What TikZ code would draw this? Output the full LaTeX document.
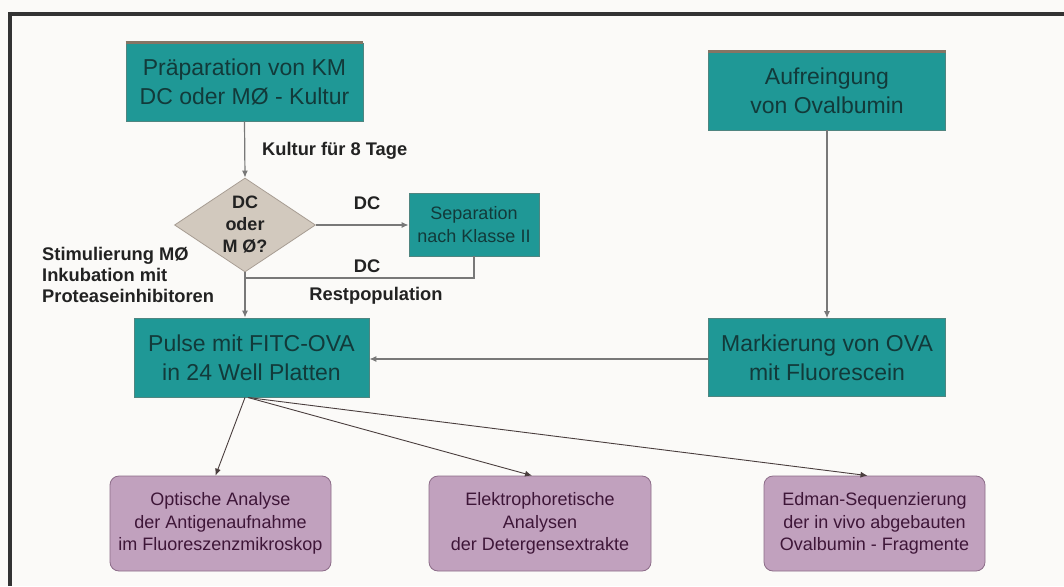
\documentclass[tikz,border=0pt]{standalone}
\usepackage{fontspec}
\setmainfont{Liberation Sans}
\usetikzlibrary{shapes.geometric,arrows.meta,calc}
\definecolor{bg}{HTML}{FBFAF8}
\definecolor{tealfill}{HTML}{1F9896}
\definecolor{tealtext}{HTML}{123A3A}
\definecolor{tealedge}{HTML}{4F8580}
\definecolor{topedge}{HTML}{857565}
\definecolor{diamfill}{HTML}{D2C9BE}
\definecolor{diamedge}{HTML}{A89E94}
\definecolor{mauve}{HTML}{C1A1BE}
\definecolor{mauveedge}{HTML}{8C6C88}
\definecolor{mauvetext}{HTML}{3E1638}
\definecolor{linec}{HTML}{787878}
\definecolor{fanc}{HTML}{4A3E3E}
\definecolor{framec}{HTML}{333333}
\definecolor{labelc}{HTML}{222222}
\begin{document}
\begin{tikzpicture}[x=1pt,y=-1pt,
  tealbox/.style={draw=tealedge, line width=0.8pt, fill=tealfill, text=tealtext,
    inner sep=0pt, align=center, minimum width=237pt, minimum height=78pt,
    font=\fontsize{23}{29}\selectfont},
  mauvebox/.style={draw=mauveedge, line width=0.8pt, fill=mauve, text=mauvetext,
    rounded corners=9pt, inner sep=0pt, align=center, minimum width=221pt, minimum height=95pt,
    font=\fontsize{18}{22.5}\selectfont},
  decision/.style={diamond, aspect=1.5, draw=diamedge, line width=0.8pt, fill=diamfill,
    text=labelc, inner sep=0pt, align=center, minimum width=141pt, minimum height=94pt,
    font=\fontsize{18}{22}\selectfont\bfseries},
  lbl/.style={text=labelc, inner sep=0pt, font=\fontsize{18.3}{21}\selectfont\bfseries},
  conn/.style={draw=linec, line width=1.2pt, -{Latex[length=7pt,width=6pt]}, color=linec},
  connplain/.style={draw=linec, line width=1.2pt},
  fan/.style={draw=fanc, line width=0.9pt, -{Latex[length=7pt,width=6pt]}},
  topline/.style={draw=topedge, line width=2.5pt}
]
\useasboundingbox (0,0) rectangle (1064,586);
\fill[bg] (0,0) rectangle (1064,586);
% frame (top and left edges)
\draw[framec, line width=4pt] (8,14) -- (1064,14);
\draw[framec, line width=4pt] (10,12) -- (10,586);

% nodes
\node[tealbox] (prep) at (244.5,82) {Präparation von KM\\DC oder MØ - Kultur};
\node[decision] (dec) at (245,225) {DC\\oder\\M Ø?};
\node[tealbox, minimum width=130pt, minimum height=63pt,
      font=\fontsize{18}{23}\selectfont] (sep) at (474,224.5) {Separation\\nach Klasse II};
\node[tealbox] (auf) at (827,91) {Aufreingung\\von Ovalbumin};
\node[tealbox, minimum width=235pt, minimum height=79pt] (pulse) at (251.5,357.5) {Pulse mit FITC-OVA\\in 24 Well Platten};
\node[tealbox] (mark) at (827,357.5) {Markierung von OVA\\mit Fluorescein};
\node[mauvebox] (opt) at (220.5,523.5) {Optische Analyse\\der Antigenaufnahme\\im Fluoreszenzmikroskop};
\node[mauvebox, minimum width=222pt] (ele) at (540,523.5) {Elektrophoretische\\Analysen\\der Detergensextrakte};
\node[mauvebox] (edm) at (874.5,523.5) {Edman-Sequenzierung\\der in vivo abgebauten\\Ovalbumin - Fragmente};

\draw[topline] (prep.north west) -- (prep.north east);
\draw[topline] (auf.north west) -- (auf.north east);

% labels
\node[lbl, anchor=west] (kult) at (262,151) {Kultur für 8 Tage};
\node[lbl] (dc1) at (367,203) {DC};
\node[lbl] (dc2) at (367,266) {DC};
\node[lbl] (rest) at (376,296) {Restpopulation};
\node[lbl, anchor=north west, align=left] (stim) at (42,247) {Stimulierung MØ\\Inkubation mit\\Proteaseinhibitoren};

% connectors
\coordinate (join) at (245,278);
\draw[conn] (prep.south) -- (dec.north);
\draw[conn] (dec.east) -- (dec.east -| sep.west);
\draw[connplain] (sep.south) |- (join);
\draw[conn] (dec.south) -- (dec.south |- pulse.north);
\draw[conn] (auf.south) -- (mark.north);
\draw[conn] (mark.west |- 0,359) -- (pulse.east |- 0,359);

\coordinate (fanA) at (245,397.5);
\coordinate (fanB) at (248,397.5);
\draw[fan] (fanA) -- ($(opt.north)+(-5,0)$);
\draw[fan] (fanB) -- ($(ele.north)+(-8,0)$);
\draw[fan] (fanB) -- ($(edm.north)+(-7,0)$);
\end{tikzpicture}
\end{document}
